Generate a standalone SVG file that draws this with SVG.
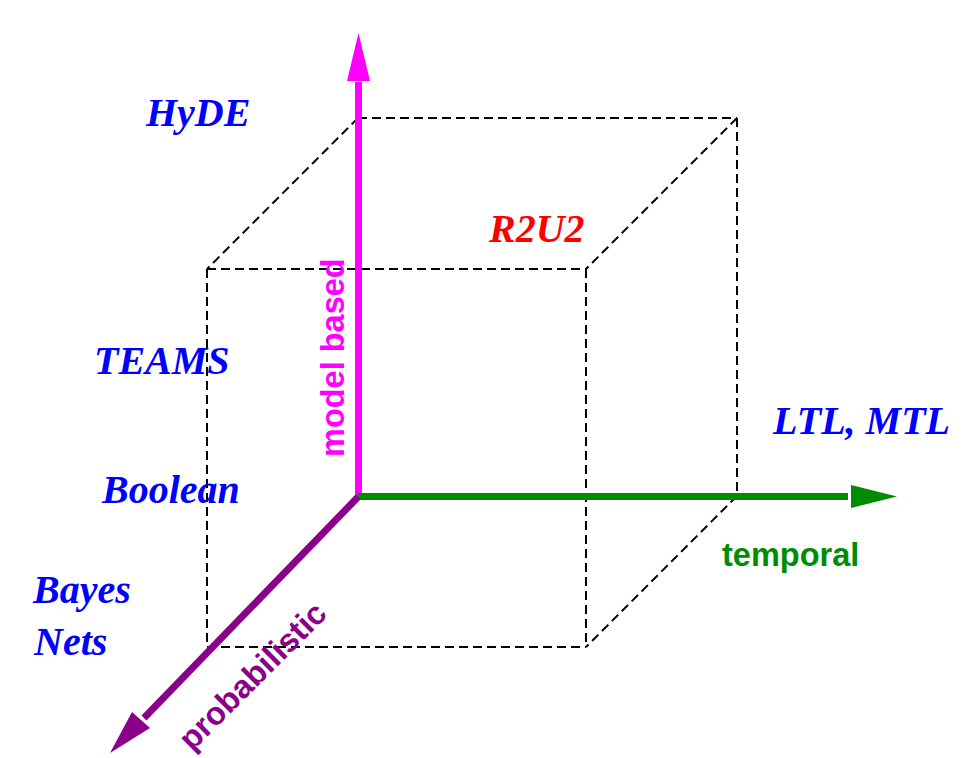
<svg xmlns="http://www.w3.org/2000/svg" width="970" height="758" viewBox="0 0 970 758">
<style>
.dash{fill:none;stroke:#000;stroke-width:2;stroke-dasharray:9 5}
.lab{font-family:"Liberation Serif","Times New Roman",serif;font-weight:bold;font-style:italic;font-size:40px;fill:#0000ff}
.ax{font-family:"Liberation Sans",Arial,sans-serif;font-weight:bold;font-size:32.5px}
</style>
<rect width="970" height="758" fill="#fff"/>
<g id="cube">
<line class="dash" x1="358" y1="118" x2="737" y2="118"/>
<line class="dash" x1="737" y1="118" x2="737" y2="496"/>
<line class="dash" x1="358" y1="118" x2="207" y2="269"/>
<line class="dash" x1="737" y1="118" x2="586" y2="269"/>
<line class="dash" x1="737" y1="496" x2="586" y2="647"/>
<line class="dash" x1="207" y1="269" x2="586" y2="269"/>
<line class="dash" x1="207" y1="269" x2="207" y2="647"/>
<line class="dash" x1="207" y1="647" x2="586" y2="647"/>
<line class="dash" x1="586" y1="269" x2="586" y2="647"/>
</g>
<g id="axes">
<g id="axis-model">
<line x1="358.5" y1="497" x2="358.5" y2="82" stroke="#ff00ff" stroke-width="7"/>
<polygon points="358.5,33 347,81 370,81" fill="#ff00ff"/>
</g>
<g id="axis-temporal">
<line x1="357" y1="496.5" x2="848" y2="496.5" stroke="#008c00" stroke-width="7"/>
<polygon points="897,496.5 851,485 851,508" fill="#008c00"/>
</g>
<g id="axis-probabilistic">
<line x1="358" y1="497" x2="144" y2="718" stroke="#8b008b" stroke-width="7"/>
<polygon points="110,753 132,712 150,728" fill="#8b008b"/>
</g>
</g>
<g id="axis-labels">
<text class="ax" fill="#ff00ff" transform="translate(344,457) rotate(-90)">model based</text>
<text class="ax" fill="#008c00" x="722" y="566">temporal</text>
<text class="ax" fill="#8b008b" transform="translate(192,752) rotate(-45)">probabilistic</text>
</g>
<g id="labels">
<text id="hyde" class="lab" x="146" y="126">HyDE</text>
<text id="r2u2" class="lab" x="489" y="242" style="fill:#ff0000">R2U2</text>
<text id="teams" class="lab" x="94" y="374">TEAMS</text>
<text id="ltl" class="lab" x="773" y="434">LTL, MTL</text>
<text id="boolean" class="lab" x="102" y="503">Boolean</text>
<text id="bayes" class="lab" x="33" y="603">Bayes</text>
<text id="nets" class="lab" x="34" y="655">Nets</text>
</g>
</svg>
